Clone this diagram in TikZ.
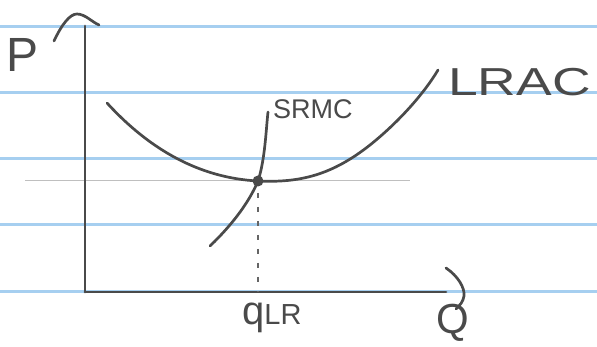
\documentclass[tikz,border=0pt]{standalone}
\usepackage{fontspec}
\setmainfont{Liberation Sans}
\usetikzlibrary{positioning}
\definecolor{inkGray}{HTML}{4A4A4A}
\definecolor{ruleBlue}{HTML}{A6CFF0}

\begin{document}
\begin{tikzpicture}[
        x=1pt, y=-1pt,
        ruleLine/.style={
            draw=ruleBlue,
            line width=3pt
        },
        inkLine/.style={
            draw=inkGray,
            line width=2.7pt,
            line cap=round,
            line join=round
        },
        guideLine/.style={
            draw=gray!50,
            line width=0.9pt
        },
        dropLine/.style={
            draw=inkGray!85,
            line width=1.5pt,
            dash pattern=on 5pt off 9pt
        },
        handLabel/.style={
            text=inkGray,
            inner sep=0pt
        },
        equilDot/.style={
            circle,
            fill=inkGray,
            minimum size=11pt,
            inner sep=0pt
        }
    ]

        \useasboundingbox[fill=white] (0,0) rectangle (597,347);

        % Ruled paper
        \foreach \y in {27,93,159,225,292}
            \draw[ruleLine] (0,\y) -- (597,\y);

        % Key points
        \coordinate (origin) at (85,292);
        \coordinate (yTop) at (85,26);
        \coordinate (xEnd) at (446,292);
        \coordinate (equil) at (258,181);
        \coordinate (qBase) at (equil |- origin);

        % Faint price level
        \coordinate (guideStart) at (25,180);
        \coordinate (guideEnd) at (410,180);
        \draw[guideLine] (guideStart) -- (guideEnd);

        % Axes
        \draw[inkLine] (origin) -- (yTop);
        \draw[inkLine] (origin) -- (xEnd);
        \draw[inkLine] (54,41) .. controls (62,24) and (70,14) .. (77,14)
            .. controls (85,14) and (92,22) .. (99,25);
        \draw[inkLine] (446,268) .. controls (458,276) and (465,288) .. (464,296)
            .. controls (463,302) and (460,305) .. (456,309);

        % Curves
        \draw[inkLine] (107,103) .. controls (150,150) and (200,178) .. (equil)
            .. controls (300,183) and (332,175) .. (370,145)
            .. controls (400,121) and (425,92) .. (438,70);
        \draw[inkLine] (210,246) .. controls (235,222) and (250,200) .. (equil)
            .. controls (265,160) and (266,130) .. (268,112);

        \draw[dropLine] (equil) ++(0,12) -- (qBase);
        \node[equilDot] (equilPoint) at (equil) {};

        % Labels
        \node[handLabel, font=\fontsize{48}{50}\selectfont] (priceLabel) at (23,55) {P};
        \node[handLabel, font=\fontsize{42}{44}\selectfont] (quantityLabel) at (453,323) {Q};
        \node[handLabel, anchor=west] (qLabel) at (242,318)
            {\fontsize{40}{42}\selectfont q\fontsize{29}{31}\selectfont LR};
        \node[handLabel, font=\fontsize{27}{29}\selectfont, anchor=west] (srLabel) at (273,109) {SRMC};
        \node[handLabel, anchor=west] (lrLabel) at (448,82)
            {\scalebox{1.37}[1]{\fontsize{39}{41}\selectfont LRAC}};

    \end{tikzpicture}
\end{document}
